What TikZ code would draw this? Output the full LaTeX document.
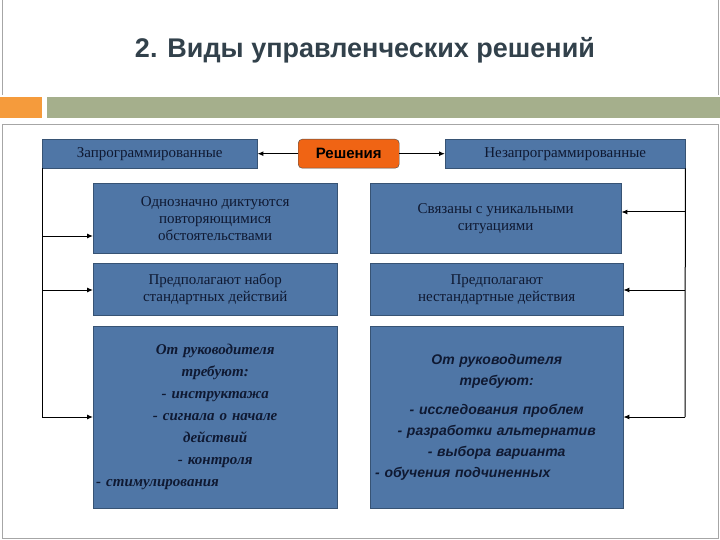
\documentclass[tikz,border=0pt]{standalone}
\usepackage{fontspec}
\setmainfont{Liberation Serif}
\newfontfamily\sansf{Liberation Sans}
\usetikzlibrary{arrows.meta}
\definecolor{boxc}{RGB}{79,118,166}
\definecolor{txtc}{RGB}{15,25,50}
\definecolor{titc}{RGB}{50,65,75}
\definecolor{orc}{RGB}{245,155,60}
\definecolor{grc}{RGB}{165,175,140}
\definecolor{decc}{RGB}{240,100,20}
\tikzset{
 bx/.style={draw=boxc!70!black,fill=boxc,text=txtc,inner sep=2pt,font=\fontsize{15}{17}\selectfont,align=center,anchor=north west},
 con/.style={line width=1.3pt,-{Latex[length=6pt,width=5pt]}}
}
\begin{document}
\begin{tikzpicture}[x=1pt,y=-1pt]
\useasboundingbox (0,0) rectangle (720,540);
\draw[gray!70,line width=1pt] (2,0) -- (2,95) (718,0) -- (718,95);
\draw[gray!70,line width=1pt] (2,125) rectangle (718,538);
\node[font=\sansf\bfseries\fontsize{27}{30}\selectfont,text=titc] (title) at (365,50) {2. Виды управленческих решений};
\fill[orc] (0,97) rectangle (42,118);
\fill[grc] (47,97) rectangle (720,118);
\node[bx,minimum width=215,minimum height=29,anchor=north west,align=left] (zap) at (42,139) {Запрограммированные};
\node[draw=black!70,fill=decc,rounded corners=4pt,minimum width=101,minimum height=29,font=\sansf\bfseries\fontsize{15}{17}\selectfont,text=black,anchor=north west] (res) at (298,139) {Решения};
\node[bx,minimum width=240,minimum height=29] (nez) at (445,139) {Незапрограммированные};
\node[bx,minimum width=244,minimum height=70] (l1) at (93,183) {Однозначно диктуются\\повторяющимися\\обстоятельствами};
\node[bx,minimum width=251,minimum height=70] (r1) at (370,183) {Связаны с уникальными\\ситуациями};
\node[bx,minimum width=244,minimum height=52] (l2) at (93,263) {Предполагают набор\\стандартных действий};
\node[bx,minimum width=253,minimum height=52] (r2) at (370,263) {Предполагают\\нестандартные действия};
\node[bx,minimum width=244,minimum height=182,text width=238,align=left,font=\fontsize{15}{22}\selectfont] (l3) at (93,326) {\centering\itshape\bfseries От руководителя\\ \centering\itshape\bfseries требуют:\par
- инструктажа\\- сигнала о начале\\действий\\- контроля\\- стимулирования};
\node[bx,minimum width=253,minimum height=182,text width=243,align=left,font=\sansf\fontsize{14}{21}\selectfont] (r3) at (370,326) {\centering\itshape\bfseries От руководителя\\ \centering\itshape\bfseries требуют:\par\vspace{8pt}
- исследования проблем\\- разработки альтернатив\\- выбора варианта\\- обучения подчиненных};
\draw[con] (res) -- (zap);
\draw[con] (res) -- (nez);
\coordinate (lc) at (42,417);
\coordinate (rc) at (685,417);
\draw[line width=1pt] (zap.south west) -- (lc);
\draw[line width=1pt] (nez.south east) -- (rc);
\draw[con,line width=1pt] (42,236) -- (l1.west |- 0,236);
\draw[con,line width=1pt] (42,290) -- (l2.west |- 0,290);
\draw[con,line width=1pt] (lc) -- (l3.west |- lc);
\draw[con,line width=1pt] (685,212) -- (r1.east |- 0,212);
\draw[con,line width=1pt] (685,290) -- (r2.east |- 0,290);
\draw[con,line width=1pt] (rc) -- (r3.east |- rc);
\end{tikzpicture}
\end{document}
